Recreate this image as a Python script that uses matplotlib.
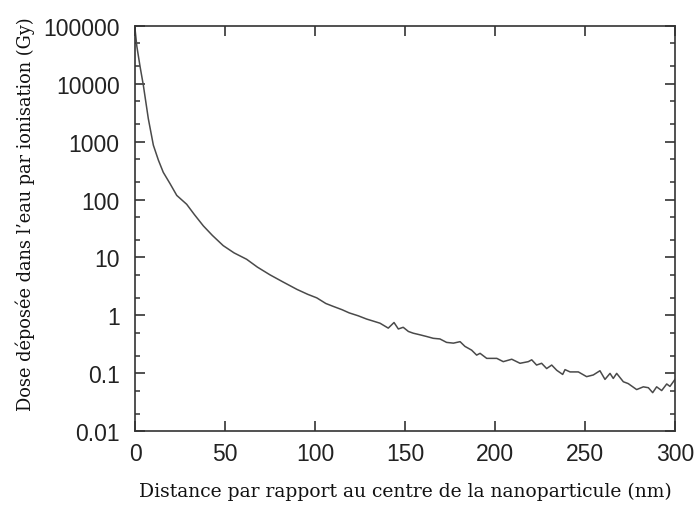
import matplotlib
matplotlib.use("Agg")
import matplotlib.pyplot as plt
from matplotlib.ticker import LogLocator, NullFormatter, FixedLocator

# Data
distance_nm = [0, 1, 2.8, 4.6, 7.4, 10.2, 13, 15.7, 19.4, 23.2, 28.7, 33, 38, 43, 49,
               55, 62, 68, 75, 82, 90, 96, 101, 106, 110, 115, 119, 124, 128.7, 132,
               136.1, 140.7, 143.9, 146.3, 149, 151.9, 154.6, 158.3, 162, 165.7, 169.4,
               173.1, 176.9, 180.6, 183.3, 187, 189.8, 191.7, 195.4, 201, 204.6, 209.3,
               213.9, 218.5, 220.4, 223.1, 225.9, 228.7, 231.5, 234.3, 237.6, 238.9,
               241.7, 246.3, 250.9, 254.6, 258.3, 261.1, 263.9, 265.7, 267.6, 271.3,
               274, 278.7, 282.4, 285.2, 287.6, 289.8, 292.6, 295.4, 297.2, 300]
dose_gy = [90000, 45000, 20000, 9600, 2500, 870, 480, 296, 190, 118, 83, 55, 35, 24, 16,
           12, 9.3, 6.8, 5.0, 3.8, 2.8, 2.3, 2.0, 1.6, 1.43, 1.25, 1.1, 0.98, 0.86, 0.8,
           0.73, 0.60, 0.75, 0.58, 0.62, 0.525, 0.49, 0.46, 0.43, 0.40, 0.39,
           0.34, 0.33, 0.35, 0.29, 0.25, 0.205, 0.22, 0.18, 0.18, 0.158, 0.174,
           0.148, 0.158, 0.17, 0.138, 0.148, 0.12, 0.138, 0.112, 0.095, 0.115,
           0.105, 0.105, 0.087, 0.093, 0.11, 0.078, 0.099, 0.081, 0.099, 0.071,
           0.066, 0.052, 0.058, 0.056, 0.046, 0.058, 0.050, 0.065, 0.059, 0.078]

x_ticks = [0, 50, 100, 150, 200, 250, 300]
y_ticks = [0.01, 0.1, 1, 10, 100, 1000, 10000, 100000]
y_tick_labels = ["0.01", "0.1", "1", "10", "100", "1000", "10000", "100000"]

fig = plt.figure(figsize=(6.97, 5.06), dpi=100)
ax = fig.add_axes([135/697, 1 - 432/506, 540/697, 405/506])

ax.plot(distance_nm, dose_gy, color="#4a4a4a", linewidth=1.1)
ax.set_yscale("log")
ax.set_xlim(0, 300)
ax.set_ylim(0.01, 100000)

ax.set_xticks(x_ticks)
ax.set_xticklabels([str(t) for t in x_ticks])
ax.yaxis.set_major_locator(FixedLocator(y_ticks))
ax.set_yticklabels(y_tick_labels)
ax.yaxis.set_minor_locator(LogLocator(base=10, subs=(2, 5)))
ax.yaxis.set_minor_formatter(NullFormatter())

for s in ax.spines.values():
    s.set_color("#333333")
    s.set_linewidth(1.2)

ax.tick_params(axis="both", which="major", direction="in", length=7.5, width=1.2,
               color="#333333", top=True, right=True, labelsize=16.5,
               labelcolor="#222222")
ax.tick_params(axis="y", which="major", pad=11)
ax.tick_params(axis="x", which="major", pad=8)
ax.tick_params(axis="y", which="minor", direction="in", length=3.8, width=1.1,
               color="#333333", right=True)
for lab in ax.get_xticklabels() + ax.get_yticklabels():
    lab.set_fontfamily("Liberation Sans")

ax.set_xlabel("Distance par rapport au centre de la nanoparticule (nm)",
              fontfamily="DejaVu Serif", fontsize=13.5, color="#111111")
ax.xaxis.label.set_verticalalignment("center")
ax.xaxis.set_label_coords(0.5, -(492 - 432) / 405)
ax.set_ylabel("Dose déposée dans l\u2019eau par ionisation (Gy)",
              fontfamily="DejaVu Serif", fontsize=12.8, color="#111111")
ax.yaxis.label.set_verticalalignment("center")
ax.yaxis.set_label_coords(-(135 - 25) / 540, (432 - 214) / 405)

fig.savefig("out.png", dpi=100)
